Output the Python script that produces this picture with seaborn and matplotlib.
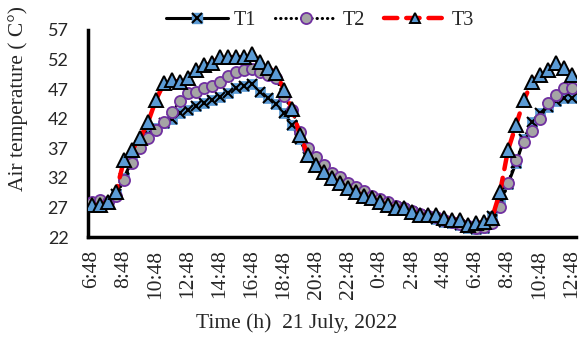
import numpy as np
import pandas as pd
import matplotlib
matplotlib.use("Agg")
import matplotlib.pyplot as plt
import seaborn as sns
from matplotlib.lines import Line2D
from matplotlib.legend_handler import HandlerTuple

tick_labels = ["6:48", "8:48", "10:48", "12:48", "14:48", "16:48", "18:48", "20:48",
               "22:48", "0:48", "2:48", "4:48", "6:48", "8:48", "10:48", "12:48"]

T1 = [27.5, 27.6, 28.0, 29.3, 32.0, 35.0, 37.5, 39.5, 40.5, 41.3,
      42.0, 43.0, 43.5, 44.2, 44.7, 45.2, 45.7, 46.3, 47.2, 47.6,
      47.8, 46.5, 45.5, 44.5, 43.0, 41.0, 38.5, 35.5, 34.0, 33.0,
      32.0, 31.2, 30.5, 29.8, 29.2, 28.6, 28.1, 27.6, 27.1, 26.7,
      26.2, 25.7, 25.3, 25.0, 24.6, 24.3, 24.0, 23.5, 23.4, 23.6,
      25.5, 28.0, 31.0, 34.5, 38.5, 41.5, 43.0, 44.0, 45.0, 45.5, 45.5]

T2 = [28.0, 28.3, 28.0, 29.0, 31.6, 34.5, 37.0, 38.7, 40.1, 41.4,
      43.1, 45.0, 46.3, 46.6, 47.2, 47.5, 48.2, 49.2, 49.9, 50.2,
      50.4, 49.9, 49.4, 48.9, 45.8, 43.5, 39.8, 37.0, 35.5, 34.2,
      32.8, 32.1, 31.1, 30.4, 29.7, 29.0, 28.4, 27.9, 27.3, 26.9,
      26.4, 25.9, 25.6, 25.3, 24.9, 24.5, 24.2, 23.8, 23.6, 23.7,
      24.3, 27.1, 31.1, 35.0, 38.1, 40.0, 41.9, 44.7, 46.0, 47.2, 47.2]

T3 = [27.4, 27.4, 27.9, 29.6, 35.0, 36.7, 38.7, 41.4, 45.2, 48.0,
      48.5, 48.2, 48.9, 50.2, 51.0, 51.4, 52.4, 52.4, 52.4, 52.4,
      53.0, 51.6, 50.6, 49.8, 46.9, 43.7, 39.2, 35.9, 34.2, 33.0,
      32.0, 31.1, 30.3, 29.6, 29.0, 28.6, 27.9, 27.4, 26.9, 26.9,
      26.2, 25.7, 25.7, 25.7, 25.2, 24.9, 24.9, 24.0, 24.4, 24.5,
      25.2, 29.6, 36.7, 40.9, 45.2, 48.2, 49.4, 50.2, 51.4, 50.6, 49.4]

y_ticks = [22, 27, 32, 37, 42, 47, 52, 57]

idx = np.arange(len(T1))
df = pd.DataFrame({"i": idx, "T1": T1, "T2": T2, "T3": T3})

sns.set_style("white")
plt.rcParams["font.family"] = ["Liberation Serif", "DejaVu Serif"]

fig = plt.figure(figsize=(5.82, 3.47), dpi=100)
ax = fig.add_axes([88/582, 1-237/347, 488/582, 207/347])

blue = "#5B9BD5"
# T1
sns.lineplot(data=df, x="i", y="T1", ax=ax, color="black", linewidth=2.2,
             marker="s", markersize=7, markerfacecolor=blue, markeredgecolor=blue,
             markeredgewidth=0.5, zorder=2)
sns.lineplot(data=df, x="i", y="T1", ax=ax, color="black", linewidth=0,
             marker="x", markersize=7, markeredgecolor="black",
             markeredgewidth=1.5, zorder=2.1)
# T2
sns.lineplot(data=df, x="i", y="T2", ax=ax, color="black", linewidth=2.2,
             linestyle=(0, (0.1, 1.6)), dash_capstyle="round",
             marker="o", markersize=8, markerfacecolor="#A5A5A5",
             markeredgecolor="#7030A0", markeredgewidth=1.3, zorder=3)
# T3
sns.lineplot(data=df, x="i", y="T3", ax=ax, color="#FF0000", linewidth=3.2,
             linestyle=(0, (3, 2)), dash_capstyle="round",
             marker="^", markersize=9.5, markerfacecolor=blue,
             markeredgecolor="black", markeredgewidth=1.4, zorder=4)

ax.set_xlim(-0.5, len(T1) - 0.5)
ax.set_ylim(22, 57)
ax.set_xticks(np.arange(0, len(T1), 4))
ax.set_xticklabels(tick_labels, rotation=90, fontsize=15.5,
                   family=["Liberation Serif"])
ax.set_yticks(y_ticks)
ax.set_yticklabels([str(v) for v in y_ticks], fontsize=13, family=["Lato"])
ax.tick_params(axis="x", length=0, pad=9)
ax.tick_params(axis="y", length=0, pad=14)
ax.set_xlabel("")
ax.set_ylabel("")
for s in ["top", "right"]:
    ax.spines[s].set_visible(False)
for s in ["left", "bottom"]:
    ax.spines[s].set_color("black")
    ax.spines[s].set_linewidth(2.5)
ax.grid(False)

fig.text(18/582, 1-98/347, "Air temperature ( C°)", rotation=90,
         ha="center", va="center", fontsize=15.5)
fig.text(297/582, 1-323/347, "Time (h)  21 July, 2022", ha="center",
         va="center", fontsize=15.5)

h1 = (Line2D([], [], color="black", lw=2.2, marker="s", ms=7,
             mfc=blue, mec=blue),
      Line2D([], [], color="black", lw=0, marker="x", ms=7, mec="black", mew=1.5))
h2 = Line2D([], [], color="black", lw=2.2, linestyle=(0, (0.1, 1.6)),
            dash_capstyle="round", marker="o", ms=8, mfc="#A5A5A5",
            mec="#7030A0", mew=1.3)
h3 = Line2D([], [], color="#FF0000", lw=3.2, linestyle=(0, (3, 2)),
            dash_capstyle="round", marker="^", ms=7, mfc=blue, mec="black", mew=1.4)
fig.legend([h1, h2, h3], ["T1", "T2", "T3"], ncol=3, frameon=False,
           loc="center", bbox_to_anchor=(320/582, 1-20/347), fontsize=14.5,
           handlelength=3.1, handletextpad=0.3, columnspacing=0.9,
           handler_map={tuple: HandlerTuple(ndivide=1)})

fig.savefig("out.png", dpi=100)
